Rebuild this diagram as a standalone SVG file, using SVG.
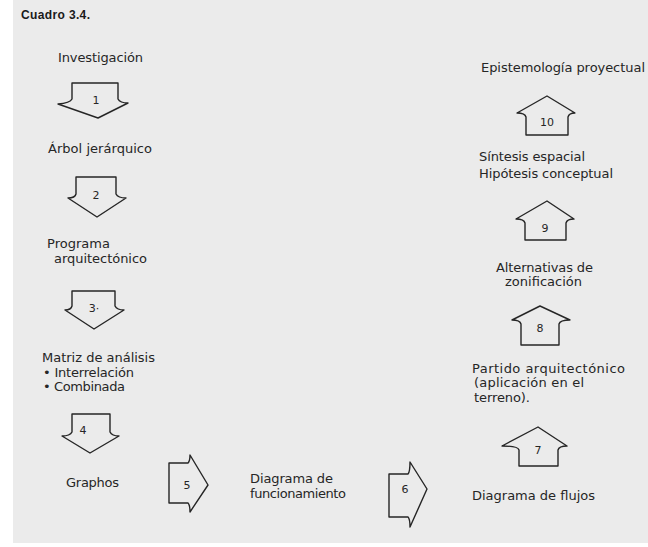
<svg xmlns="http://www.w3.org/2000/svg" width="648" height="547" viewBox="0 0 648 547">
  <style>
    .lbl { font-family: "DejaVu Sans", "Open Sans", sans-serif; font-size: 13px; fill: #262626; }
    .num { font-family: "DejaVu Sans", "Open Sans", sans-serif; font-size: 11px; fill: #262626; text-anchor: middle; }
    .title { font-family: "Liberation Sans", "DejaVu Sans", sans-serif; font-size: 12px; font-weight: bold; fill: #1a1a1a; }
    .arrow { fill: none; stroke: #262626; stroke-width: 1.4; stroke-linejoin: round; }
  </style>

  <!-- page -->
  <rect x="0" y="0" width="648" height="547" fill="#ffffff"/>
  <rect x="13" y="0" width="635" height="543" fill="#ebebeb"/>

  <text class="title" x="21" y="19" textLength="69">Cuadro 3.4.</text>

  <!-- process steps -->
  <g id="investigacion"><text class="lbl" x="58" y="62" textLength="85">Investigación</text></g>
  <g id="arbol"><text class="lbl" x="48" y="153" textLength="104">Árbol jerárquico</text></g>
  <g id="programa">
    <text class="lbl" x="47" y="248" textLength="63">Programa</text>
    <text class="lbl" x="54" y="263" textLength="93">arquitectónico</text>
  </g>
  <g id="matriz">
    <text class="lbl" x="42" y="362" textLength="113">Matriz de análisis</text>
    <text class="lbl" x="43" y="377" textLength="91">• Interrelación</text>
    <text class="lbl" x="43" y="391" textLength="82">• Combinada</text>
  </g>
  <g id="graphos"><text class="lbl" x="66" y="487" textLength="53">Graphos</text></g>
  <g id="funcionamiento">
    <text class="lbl" x="250" y="483" textLength="83">Diagrama de</text>
    <text class="lbl" x="250" y="497.5" textLength="96">funcionamiento</text>
  </g>
  <g id="flujos"><text class="lbl" x="472" y="500" textLength="123">Diagrama de flujos</text></g>
  <g id="partido">
    <text class="lbl" x="472" y="373" textLength="153">Partido arquitectónico</text>
    <text class="lbl" x="474" y="387" textLength="110">(aplicación en el</text>
    <text class="lbl" x="474" y="402" textLength="56">terreno).</text>
  </g>
  <g id="zonificacion">
    <text class="lbl" x="496" y="272" textLength="97">Alternativas de</text>
    <text class="lbl" x="505" y="286" textLength="77">zonificación</text>
  </g>
  <g id="sintesis">
    <text class="lbl" x="479" y="161" textLength="106">Síntesis espacial</text>
    <text class="lbl" x="479" y="178" textLength="134">Hipótesis conceptual</text>
  </g>
  <g id="epistemologia"><text class="lbl" x="481" y="72" textLength="164">Epistemología proyectual</text></g>

  <!-- numbered block arrows -->
  <g id="connectors">
    <g id="a1">
      <path class="arrow" d="M72,83 H118 V99 Q120,103 128,103 L98,118 L58,104 Q70,103 72,99 Z"/>
      <text class="num" x="96" y="104">1</text>
    </g>
    <g id="a2">
      <path class="arrow" d="M76,177 H116 V194 Q118,198 126,198 L97,217 L68,198 Q75,198 76,194 Z"/>
      <text class="num" x="96" y="199">2</text>
    </g>
    <g id="a3">
      <path class="arrow" d="M72,291 H115 V306 Q117,310 124,310 L94,329 L65,310 Q71,310 72,306 Z"/>
      <text class="num" x="94" y="312">3·</text>
    </g>
    <g id="a4">
      <path class="arrow" d="M72,414 H110 V432 Q112,436 119,436 L90,453 L62,436 Q70,436 72,432 Z"/>
      <text class="num" x="83" y="434">4</text>
    </g>
    <g id="a5">
      <path class="arrow" d="M169,463 H188 Q190,461 190,455 L208,485 L190,512 Q190,505 188,503 H169 Z"/>
      <text class="num" x="187" y="489">5</text>
    </g>
    <g id="a6">
      <path class="arrow" d="M389,474 H408 Q410,472 410,462 L427,489 L410,527 Q410,519 408,517 H389 Z"/>
      <text class="num" x="405" y="493">6</text>
    </g>
    <g id="a7">
      <path class="arrow" d="M519,466 V450 Q518,446 502,446 L538,427 L567,446 Q559,446 558,450 V466 Z"/>
      <text class="num" x="538" y="454">7</text>
    </g>
    <g id="a8">
      <path class="arrow" d="M521,345 V324 Q520,320 512,320 L540,306 L570,320 Q560,320 559,324 V345 Z"/>
      <text class="num" x="540" y="332">8</text>
    </g>
    <g id="a9">
      <path class="arrow" d="M525,240 V223 Q524,219 516,219 L547,201 L574,219 Q567,219 566,223 V240 Z"/>
      <text class="num" x="545" y="232">9</text>
    </g>
    <g id="a10">
      <path class="arrow" d="M526,135 V117 Q525,113 517,113 L547,96 L575,113 Q569,113 568,117 V135 Z"/>
      <text class="num" x="547" y="126">10</text>
    </g>
  </g>
</svg>
